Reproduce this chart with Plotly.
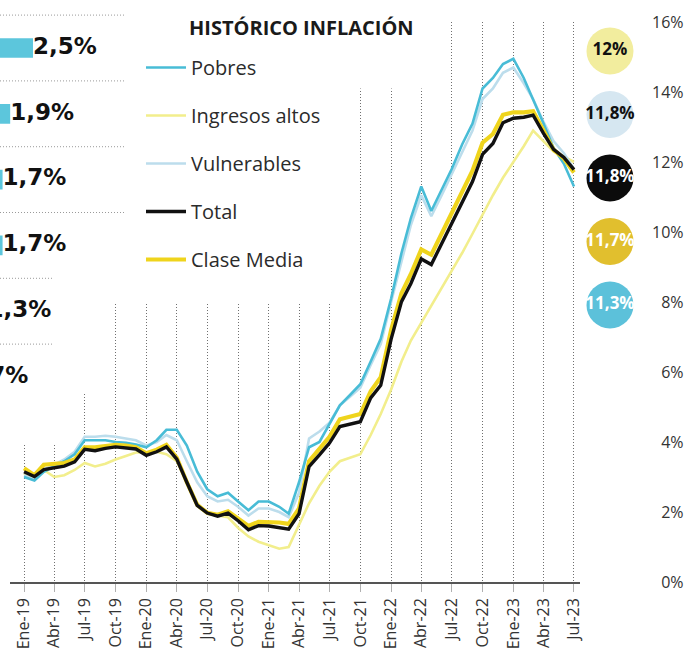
import plotly.graph_objects as go
import pandas as pd

W, H = 685, 652

# ---------------- data ----------------
months = list(pd.date_range("2019-01-01", "2023-07-01", freq="MS"))

tick_labels = ["Ene-19", "Abr-19", "Jul-19", "Oct-19", "Ene-20", "Abr-20", "Jul-20",
               "Oct-20", "Ene-21", "Abr-21", "Jul-21", "Oct-21", "Ene-22", "Abr-22",
               "Jul-22", "Oct-22", "Ene-23", "Abr-23", "Jul-23"]
tick_dates = months[::3]

pobres = [3.0, 2.9, 3.15, 3.3, 3.45, 3.65, 4.05, 4.05, 4.05, 4.0, 3.98, 3.93,
          3.85, 4.05, 4.35, 4.35, 3.9, 3.15, 2.65, 2.45, 2.55, 2.3, 2.05, 2.3,
          2.3, 2.15, 1.95, 2.85, 3.85, 4.0, 4.5, 5.05, 5.35, 5.65, 6.3, 6.95,
          8.1, 9.4, 10.4, 11.3, 10.6, 11.2, 11.8, 12.5, 13.1, 14.1, 14.4, 14.8,
          14.95, 14.4, 13.8, 13.1, 12.4, 11.95, 11.3]

ingresos_altos = [3.1, 2.95, 3.2, 3.0, 3.05, 3.2, 3.4, 3.3, 3.38, 3.5, 3.6, 3.7,
                  3.7, 3.72, 3.65, 3.45, 2.9, 2.25, 1.95, 1.9, 1.85, 1.55, 1.3, 1.15,
                  1.05, 0.95, 1.0, 1.65, 2.25, 2.75, 3.15, 3.45, 3.55, 3.65, 4.2, 4.8,
                  5.5, 6.3, 6.9, 7.4, 7.9, 8.4, 8.9, 9.4, 9.95, 10.5, 11.05, 11.55,
                  12.0, 12.45, 12.9, 12.6, 12.3, 12.15, 12.0]

vulnerables = [3.05, 2.92, 3.2, 3.35, 3.5, 3.72, 4.15, 4.15, 4.18, 4.15, 4.1, 4.05,
               3.9, 4.0, 4.2, 4.05, 3.45, 2.85, 2.45, 2.3, 2.35, 2.15, 1.9, 2.1,
               2.1, 2.0, 1.85, 2.55, 4.1, 4.3, 4.55, 5.05, 5.3, 5.55, 6.2, 6.8,
               8.0, 9.2, 10.2, 11.05, 10.45, 11.05, 11.65, 12.3, 12.9, 13.8, 14.1, 14.55,
               14.7, 14.25, 13.8, 13.15, 12.6, 12.25, 11.8]

total = [3.15, 3.01, 3.21, 3.25, 3.31, 3.43, 3.79, 3.75, 3.82, 3.86, 3.84, 3.80,
         3.62, 3.72, 3.86, 3.51, 2.85, 2.19, 1.97, 1.88, 1.97, 1.75, 1.49, 1.61,
         1.60, 1.56, 1.51, 1.95, 3.30, 3.63, 3.97, 4.44, 4.51, 4.58, 5.26, 5.62,
         6.94, 8.01, 8.53, 9.23, 9.07, 9.67, 10.21, 10.84, 11.44, 12.22, 12.53, 13.12,
         13.25, 13.28, 13.34, 12.82, 12.36, 12.13, 11.78]

clase_media = [3.25, 3.05, 3.35, 3.38, 3.4, 3.5, 3.85, 3.85, 3.9, 3.92, 3.9, 3.85,
               3.68, 3.78, 3.92, 3.55, 2.85, 2.2, 1.98, 1.92, 2.02, 1.82, 1.6, 1.72,
               1.72, 1.7, 1.66, 2.1, 3.45, 3.8, 4.15, 4.65, 4.72, 4.8, 5.45, 5.85,
               7.2, 8.25, 8.8, 9.5, 9.35, 9.95, 10.5, 11.1, 11.75, 12.55, 12.8, 13.35,
               13.42, 13.42, 13.45, 12.9, 12.35, 12.1, 11.7]

y_ticks = [0, 2, 4, 6, 8, 10, 12, 14, 16]

# left (cut-off) bar panel
side_values = [2.5, 1.9, 1.7, 1.7, 1.3, 0.7]

# ---------------- styles ----------------
series = [
    # name, data, color, width, legend rank
    ("Ingresos altos", ingresos_altos, "#F2EE8C", 2.6, 2),
    ("Vulnerables", vulnerables, "#BCDDEC", 2.6, 3),
    ("Pobres", pobres, "#48BCD6", 2.6, 1),
    ("Clase Media", clase_media, "#EFD41C", 4.2, 5),
    ("Total", total, "#111111", 3.4, 4),
]

circle_order = ["Ingresos altos", "Vulnerables", "Total", "Clase Media", "Pobres"]
circle_fill = {"Ingresos altos": "#F2ED9E", "Vulnerables": "#D6E7F1", "Total": "#0B0B0B",
               "Clase Media": "#E1BF2E", "Pobres": "#5CC1DA"}
circle_text = {"Ingresos altos": "#111111", "Vulnerables": "#111111", "Total": "#FFFFFF",
               "Clase Media": "#FFFFFF", "Pobres": "#FFFFFF"}

SANS = "Open Sans, sans-serif"
BOLD = "DejaVu Sans, sans-serif"

fig = go.Figure()

for name, data, color, width, rank in series:
    fig.add_trace(go.Scatter(
        x=months, y=data, mode="lines", name=name,
        line=dict(color=color, width=width), legendrank=rank, legendgroup=name,
        xaxis="x", yaxis="y", hoverinfo="skip"))


def fmt(v):
    s = f"{v:.1f}".replace(".", ",")
    if s.endswith(",0"):
        s = s[:-2]
    return s + "%"


last = {name: data[-1] for name, data, *_ in series}
fig.add_trace(go.Scatter(
    x=[0.5] * len(circle_order), y=list(range(len(circle_order))),
    mode="markers+text", text=[fmt(last[n]) for n in circle_order],
    textposition="middle center",
    marker=dict(size=47, color=[circle_fill[n] for n in circle_order], line=dict(width=0)),
    textfont=dict(family=SANS, size=17, color=[circle_text[n] for n in circle_order],
                  weight="bold"),
    xaxis="x2", yaxis="y2", showlegend=False, cliponaxis=False, hoverinfo="skip"))

rows = list(range(len(side_values)))
fig.add_trace(go.Bar(
    x=side_values, y=rows, orientation="h", width=0.3,
    marker=dict(color="#5CC6DC", line=dict(width=0)),
    xaxis="x3", yaxis="y3", showlegend=False, hoverinfo="skip"))
# value labels, clipped by the panel's left edge like the bars
fig.add_trace(go.Scatter(
    x=side_values, y=rows, mode="text", text=[fmt(v) for v in side_values],
    textposition="middle right",
    textfont=dict(family=BOLD, size=23, color="#111111", weight="bold"),
    xaxis="x3", yaxis="y3", showlegend=False, cliponaxis=True, hoverinfo="skip"))

# separators of the side panel
for r in rows:
    fig.add_shape(type="line", xref="paper", yref="y3",
                  x0=0, x1=(125 if r < 4 else 53) / W, y0=r - 0.5, y1=r - 0.5,
                  line=dict(color="#9a9a9a", width=1, dash="1px,2px"))

# white masks hiding the upper part of some vertical grid lines
masks = [("2018-11-01", "2019-05-15", 3.97), ("2019-05-15", "2019-08-15", 5.4),
         ("2019-08-15", "2021-08-15", 7.95), ("2021-08-15", "2022-05-15", 14.1)]
for x0, x1, y0 in masks:
    fig.add_shape(type="rect", xref="x", yref="y", x0=x0, x1=x1, y0=y0, y1=16.5,
                  fillcolor="white", line=dict(width=0), layer="between")

fig.add_annotation(text="<b>HISTÓRICO INFLACIÓN</b>", xref="paper", yref="paper",
                   x=187 / W, y=1 - 28 / H, xanchor="left", yanchor="middle",
                   showarrow=False, font=dict(family=SANS, size=20, color="#1a1a1a"))

fig.update_layout(
    width=W, height=H, margin=dict(l=0, r=0, t=0, b=0, autoexpand=False),
    paper_bgcolor="white", plot_bgcolor="rgba(0,0,0,0)",
    showlegend=True,
    legend=dict(x=141 / W, y=1 - 48 / H, xanchor="left", yanchor="top",
                font=dict(family=SANS, size=20, color="#2b2b2b"),
                bgcolor="rgba(0,0,0,0)", itemwidth=40, tracegroupgap=19,
                traceorder="grouped"),
    xaxis=dict(domain=[10 / W, 580 / W], type="date",
               range=["2018-11-20", "2023-07-19"],
               tickmode="array", tickvals=tick_dates, ticktext=tick_labels,
               tickangle=-90, tickfont=dict(family=SANS, size=16, color="#333333"),
               showgrid=True, griddash="1px,2px", gridcolor="#6f6f6f", gridwidth=1,
               ticks="outside", ticklen=8, tickcolor="#b0b0b0",
               showline=True, linecolor="#555555", linewidth=1.5, zeroline=False,
               anchor="y", automargin=False),
    yaxis=dict(domain=[70 / H, 630 / H], range=[0, 16], side="right", anchor="x",
               tickmode="array", tickvals=y_ticks,
               ticktext=[("\u2007" if v < 10 else "") + f"{v}%" for v in y_ticks],
               tickfont=dict(family=SANS, size=16, color="#333333"),
               showgrid=False, zeroline=False, showline=False, ticks="",
               ticklabelstandoff=71, automargin=False),
    xaxis2=dict(domain=[0.87, 0.911], range=[0, 1], visible=False, anchor="y2"),
    yaxis2=dict(domain=[0, 1], range=[9.465, -0.803], visible=False, anchor="x2"),
    xaxis3=dict(domain=[0, 0.25], range=[1.632, 6.139], visible=False, anchor="y3"),
    yaxis3=dict(domain=[0, 1], range=[9.179, -0.7295], visible=False, anchor="x3"),
)

fig.write_html("out.html", config={"displayModeBar": False},
               post_script="document.body.style.margin='0';")
